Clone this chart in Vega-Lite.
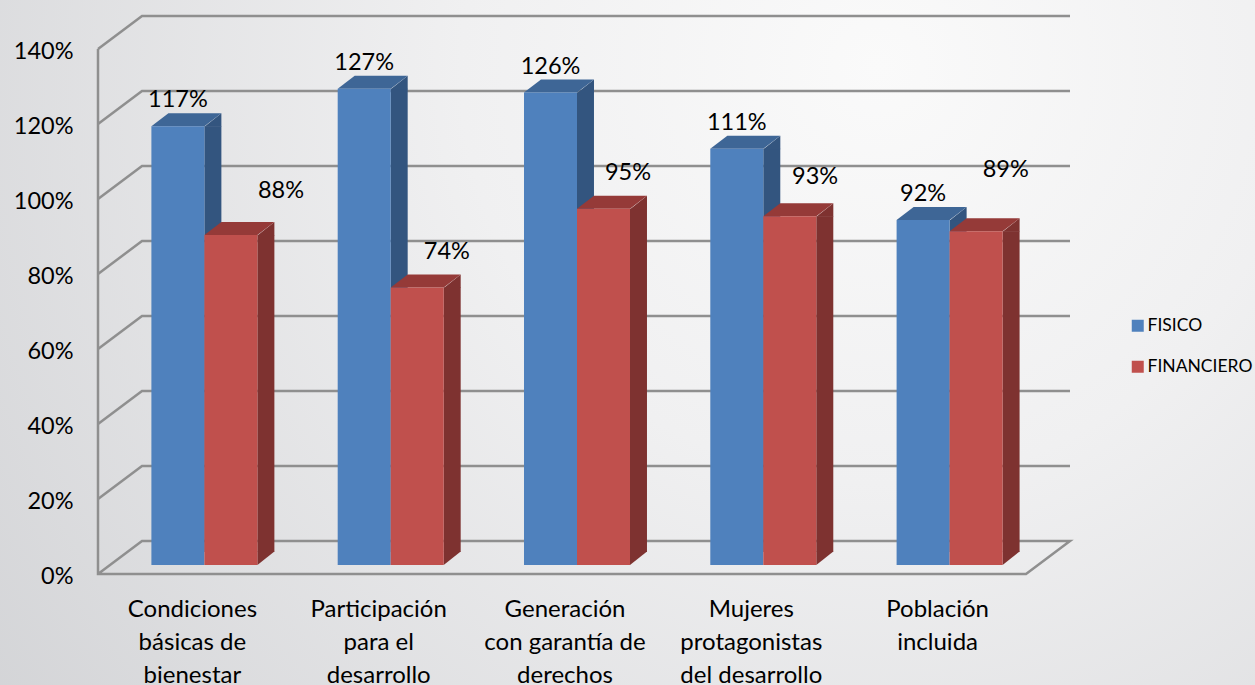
{
"$schema":"https://vega.github.io/schema/vega-lite/v6.json",
"width":1255,"height":685,"padding":0,"autosize":"none",
"background":"#e4e5e7",
"view":{"stroke":null,"fill":{"gradient":"radial","x1":0.7,"y1":0.28,"r1":0,"x2":0.7,"y2":0.28,"r2":0.95,"stops":[{"offset":0,"color":"#fafafa"},{"offset":0.35,"color":"#f0f0f1"},{"offset":1,"color":"#cfd0d3"}]}},
"config":{"font":"Lato","text":{"font":"Lato"}},
"datasets":{
"grid":[{"valor":0.2},{"valor":0.4},{"valor":0.6},{"valor":0.8},{"valor":1.0},{"valor":1.2},{"valor":1.4}],
"piso":[{"valor":0}],
"barras":[
{"categoria":"Condiciones|básicas de|bienestar","serie":"FISICO","valor":1.17,"base":0},
{"categoria":"Condiciones|básicas de|bienestar","serie":"FINANCIERO","valor":0.88,"base":0},
{"categoria":"Participación|para el|desarrollo","serie":"FISICO","valor":1.27,"base":0},
{"categoria":"Participación|para el|desarrollo","serie":"FINANCIERO","valor":0.74,"base":0},
{"categoria":"Generación|con garantía de|derechos","serie":"FISICO","valor":1.26,"base":0},
{"categoria":"Generación|con garantía de|derechos","serie":"FINANCIERO","valor":0.95,"base":0},
{"categoria":"Mujeres|protagonistas|del desarrollo","serie":"FISICO","valor":1.11,"base":0},
{"categoria":"Mujeres|protagonistas|del desarrollo","serie":"FINANCIERO","valor":0.93,"base":0},
{"categoria":"Población|incluida","serie":"FISICO","valor":0.92,"base":0},
{"categoria":"Población|incluida","serie":"FINANCIERO","valor":0.89,"base":0}
]},
"layer":[
{"data":{"name":"grid"},
 "mark":{"type":"point","filled":false,"shape":"M0,0L44,-33L972,-33","size":4,"stroke":"#8f8f8f","strokeWidth":2.5,"opacity":1,"xOffset":-106.4,"yOffset":9},
 "encoding":{
  "x":{"datum":"Condiciones|básicas de|bienestar","type":"nominal"},
  "y":{"field":"valor","type":"quantitative"}}},
{"data":{"name":"piso"},
 "mark":{"type":"point","filled":false,"shape":"M0,-525L0,0L928,0L972,-33L44,-33L0,0","size":4,"stroke":"#8f8f8f","strokeWidth":2.5,"opacity":1,"xOffset":-106.4,"yOffset":9},
 "encoding":{
  "x":{"datum":"Condiciones|básicas de|bienestar","type":"nominal"},
  "y":{"field":"valor","type":"quantitative"}}},
{"data":{"name":"barras"},
 "encoding":{
  "x":{"field":"categoria","type":"nominal",
    "scale":{"domain":["Condiciones|básicas de|bienestar","Participación|para el|desarrollo","Generación|con garantía de|derechos","Mujeres|protagonistas|del desarrollo","Población|incluida"],"range":[111.25,1042.75],"paddingInner":0.431,"paddingOuter":0.2155},
    "axis":{"title":null,"orient":"bottom","offset":-111,"labelExpr":"split(datum.label,'|')","labelAngle":0,"labelAlign":"center","labelFontSize":24,"labelColor":"#000000","labelLineHeight":33,"labelPadding":23,"labelOffset":-12,"labelLimit":400,"labelOverlap":false,"ticks":false,"grid":false,"domain":false,"labelBaseline":"top"}},
  "xOffset":{"field":"serie","type":"nominal","scale":{"domain":["FISICO","FINANCIERO"]}},
  "y":{"field":"valor","type":"quantitative","stack":null,
    "scale":{"domain":[0,1.4],"range":[565,40],"nice":false},
    "axis":{"title":null,"orient":"left","offset":-98,"values":[0,0.2,0.4,0.6,0.8,1.0,1.2,1.4],"format":".0%","labelFontSize":23.5,"labelColor":"#000000","labelPadding":25,"labelOffset":11.5,"ticks":false,"grid":false,"domain":false,"labelFlush":false}}
 },
 "layer":[
  {"transform":[{"filter":"datum.serie==='FISICO'"}],"mark":{"type":"rule","strokeWidth":17,"stroke":"#33557f","y2Offset":-13},"encoding":{"x":{"field":"categoria","type":"nominal","bandPosition":0.58},"xOffset":null,"y2":{"field":"base"}}},
  {"transform":[{"filter":"datum.serie==='FISICO'"}],"mark":{"type":"point","filled":true,"shape":"M26.5,0.5L43.5,-13L43.5,0.5Z","size":4,"fill":"#33557f","strokeWidth":0,"opacity":1}},
  {"transform":[{"filter":"datum.serie==='FISICO'"}],"mark":{"type":"point","filled":true,"shape":"M-26.5,0L-9.5,-13L43.5,-13L26.5,0Z","size":4,"fill":"#3e6696","strokeWidth":0,"opacity":1}},
  {"transform":[{"filter":"datum.serie==='FINANCIERO'"}],"mark":{"type":"rule","strokeWidth":17,"stroke":"#7e3230","y2Offset":-13},"encoding":{"x":{"field":"categoria","type":"nominal","bandPosition":1.08},"xOffset":null,"y2":{"field":"base"}}},
  {"transform":[{"filter":"datum.serie==='FINANCIERO'"}],"mark":{"type":"point","filled":true,"shape":"M26.5,0.5L43.5,-13L43.5,0.5Z","size":4,"fill":"#7e3230","strokeWidth":0,"opacity":1}},
  {"transform":[{"filter":"datum.serie==='FINANCIERO'"}],"mark":{"type":"point","filled":true,"shape":"M-26.5,0L-9.5,-13L43.5,-13L26.5,0Z","size":4,"fill":"#953a38","strokeWidth":0,"opacity":1}},
  {"transform":[{"filter":"datum.serie==='FINANCIERO'"}],"mark":{"type":"point","filled":true,"shape":"M26.5,0L43.5,-13.5L26.5,-13.5Z","size":4,"fill":"#7e3230","strokeWidth":0,"opacity":1},"encoding":{"y":{"datum":0,"type":"quantitative"}}},
  {"mark":{"type":"bar"},
   "encoding":{"color":{"field":"serie","type":"nominal","scale":{"domain":["FISICO","FINANCIERO"],"range":["#4f81bd","#c0504d"]},
     "legend":{"title":null,"orient":"none","legendX":1129,"legendY":317,"symbolType":"square","symbolSize":144,"symbolStrokeWidth":0,"labelFontSize":17.5,"labelColor":"#000000","labelOffset":1,"rowPadding":22,"labelLimit":200}}}},
  {"transform":[{"filter":"datum.serie==='FISICO'"}],"mark":{"type":"text","fontSize":23.5,"color":"#000000","baseline":"middle","dx":0,"dy":-26},"encoding":{"text":{"field":"valor","type":"quantitative","format":".0%"}}},
  {"transform":[{"filter":"datum.serie==='FINANCIERO' && datum.valor===0.88"}],"mark":{"type":"text","fontSize":23.5,"color":"#000000","baseline":"middle","dx":50.1,"dy":-44},"encoding":{"text":{"field":"valor","type":"quantitative","format":".0%"}}},
  {"transform":[{"filter":"datum.serie==='FINANCIERO' && datum.valor===0.74"}],"mark":{"type":"text","fontSize":23.5,"color":"#000000","baseline":"middle","dx":29.7,"dy":-35.5},"encoding":{"text":{"field":"valor","type":"quantitative","format":".0%"}}},
  {"transform":[{"filter":"datum.serie==='FINANCIERO' && datum.valor===0.95"}],"mark":{"type":"text","fontSize":23.5,"color":"#000000","baseline":"middle","dx":24.5,"dy":-36},"encoding":{"text":{"field":"valor","type":"quantitative","format":".0%"}}},
  {"transform":[{"filter":"datum.serie==='FINANCIERO' && datum.valor===0.93"}],"mark":{"type":"text","fontSize":23.5,"color":"#000000","baseline":"middle","dx":25.3,"dy":-39},"encoding":{"text":{"field":"valor","type":"quantitative","format":".0%"}}},
  {"transform":[{"filter":"datum.serie==='FINANCIERO' && datum.valor===0.89"}],"mark":{"type":"text","fontSize":23.5,"color":"#000000","baseline":"middle","dx":29.6,"dy":-61},"encoding":{"text":{"field":"valor","type":"quantitative","format":".0%"}}}
 ]}
]
}
